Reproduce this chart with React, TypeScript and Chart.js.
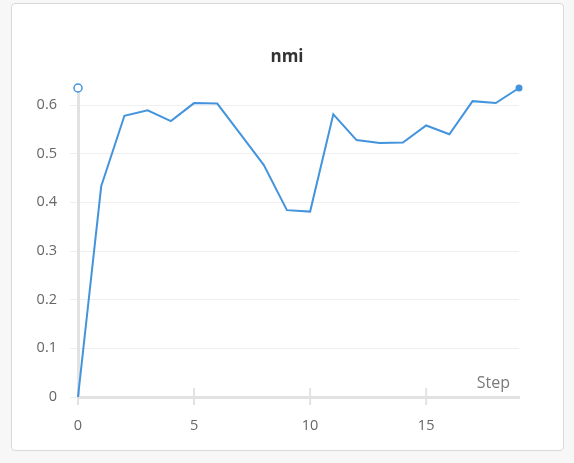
import { useEffect, useRef } from "react"
import { Chart, registerables } from "chart.js"

Chart.register(...registerables)

const steps = [0, 1, 2, 3, 4, 5, 6, 7, 8, 9, 10, 11, 12, 13, 14, 15, 16, 17, 18, 19]
const nmi = [
  0, 0.433, 0.578, 0.589, 0.567, 0.604, 0.603, 0.54, 0.477, 0.384,
  0.381, 0.581, 0.528, 0.522, 0.523, 0.558, 0.54, 0.608, 0.604, 0.635,
]
const chartTitle = "nmi"
const xAxisTitle = "Step"

const LINE = "#4394dd"
const AXIS = "#e2e2e2"
const FONT = "'Open Sans', 'Noto Sans', sans-serif"

// extra bits the panel draws: centred title, crossing x ticks, "Step" label, y-axis max marker
const decorations = {
  id: "decorations",
  beforeDatasetsDraw(chart: any) {
    const { ctx, chartArea, scales } = chart
    const xs = scales.x
    ctx.save()
    ctx.strokeStyle = AXIS
    ctx.lineWidth = 2
    xs.ticks.forEach((t: any) => {
      const px = xs.getPixelForValue(t.value)
      ctx.beginPath()
      ctx.moveTo(px, chartArea.bottom - 9)
      ctx.lineTo(px, chartArea.bottom + 8)
      ctx.stroke()
    })
    ctx.restore()
  },
  afterDraw(chart: any) {
    const { ctx, chartArea, scales } = chart
    const ys = scales.y
    ctx.save()

    ctx.fillStyle = "#333"
    ctx.font = `bold 17px ${FONT}`
    ctx.textAlign = "center"
    ctx.textBaseline = "middle"
    ctx.fillText(chartTitle, chart.width / 2, 57)

    ctx.fillStyle = "#7a7a7a"
    ctx.font = `16px ${FONT}`
    ctx.textAlign = "right"
    ctx.textBaseline = "alphabetic"
    ctx.fillText(xAxisTitle, chartArea.right - 9, chartArea.bottom - 9)

    const maxY = ys.getPixelForValue(Math.max(...nmi))
    ctx.beginPath()
    ctx.arc(chartArea.left, maxY, 4, 0, Math.PI * 2)
    ctx.fillStyle = "#fff"
    ctx.fill()
    ctx.strokeStyle = LINE
    ctx.lineWidth = 1.5
    ctx.stroke()
    ctx.restore()
  },
}

function NmiChart() {
  const chartRef = useRef<HTMLCanvasElement>(null)
  const chartInstance = useRef<Chart | null>(null)

  useEffect(() => {
    if (!chartRef.current) return
    const ctx = chartRef.current.getContext("2d")
    if (!ctx) return

    if (chartInstance.current) {
      chartInstance.current.destroy()
    }

    const last = nmi.length - 1

    chartInstance.current = new Chart(ctx, {
      type: "line",
      data: {
        datasets: [
          {
            label: chartTitle,
            data: steps.map((s, i) => ({ x: s, y: nmi[i] })),
            borderColor: LINE,
            backgroundColor: LINE,
            borderWidth: 2,
            tension: 0,
            clip: false,
            pointRadius: (c: any) => (c.dataIndex === last ? 3.5 : 0),
            pointBorderWidth: 0,
          },
        ],
      },
      options: {
        animation: false,
        responsive: true,
        maintainAspectRatio: false,
        layout: { padding: { left: 20, right: 55, top: 88, bottom: 0 } },
        scales: {
          x: {
            type: "linear",
            min: 0,
            max: steps[steps.length - 1],
            afterBuildTicks: (scale: any) => {
              scale.ticks = scale.ticks.filter((t: any) => t.value % 5 === 0)
            },
            afterFit: (scale: any) => {
              scale.height = 66
            },
            ticks: {
              stepSize: 5,
              color: "#666",
              font: { family: FONT, size: 14.5 },
              padding: 20,
              maxRotation: 0,
            },
            grid: { display: false, drawTicks: false },
            border: { display: true, color: AXIS, width: 3 },
          },
          y: {
            min: 0,
            max: Math.max(...nmi),
            afterBuildTicks: (scale: any) => {
              scale.ticks = scale.ticks.filter(
                (t: any) => Math.abs(t.value * 10 - Math.round(t.value * 10)) < 1e-6
              )
            },
            afterFit: (scale: any) => {
              scale.width = 58
            },
            ticks: {
              stepSize: 0.1,
              color: "#666",
              font: { family: FONT, size: 14.5 },
              padding: 13,
            },
            grid: { color: "#efefef", lineWidth: 1, tickLength: 8, drawTicks: true },
            border: { display: true, color: AXIS, width: 3 },
          },
        },
        plugins: {
          legend: { display: false },
          tooltip: { enabled: false },
          title: { display: false },
        },
      },
      plugins: [decorations],
    } as any)

    return () => {
      if (chartInstance.current) {
        chartInstance.current.destroy()
        chartInstance.current = null
      }
    }
  }, [])

  return (
    <div style={{ position: "absolute", left: 0, top: 0, width: 574, height: 463 }}>
      <canvas ref={chartRef} />
    </div>
  )
}

export default function App() {
  return (
    <div style={{ position: "fixed", inset: 0, background: "#f7f7f7" }}>
      <div
        style={{
          position: "absolute",
          left: 11,
          top: 3,
          width: 551,
          height: 446,
          background: "#fff",
          border: "1px solid #d9d9d9",
          borderRadius: 4,
        }}
      />
      <NmiChart />
    </div>
  )
}
